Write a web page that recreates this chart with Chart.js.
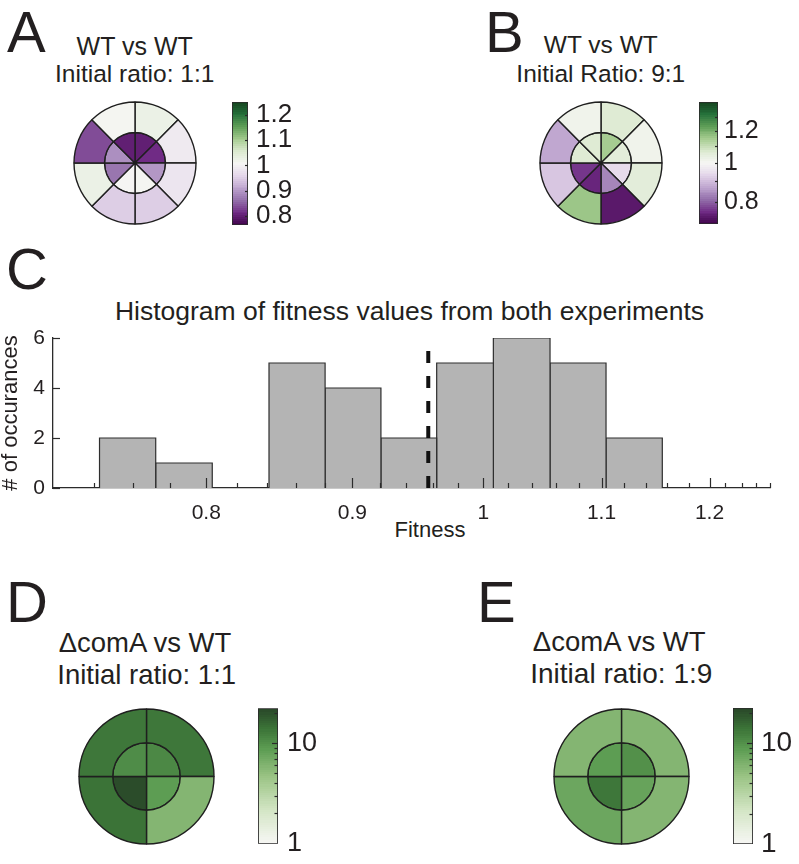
<!DOCTYPE html>
<html>
<head>
<meta charset="utf-8">
<script src="https://cdn.jsdelivr.net/npm/chart.js@4.4.0/dist/chart.umd.min.js"></script>
<style>
  body { margin: 0; background: #fff; }
  #fig { position: relative; width: 799px; height: 864px; overflow: hidden;
         font-family: "Liberation Sans", Arial, sans-serif; color: #231f20; }
  #fig canvas { position: absolute; }
  .t { position: absolute; line-height: 1; white-space: nowrap; }
</style>
</head>
<body>
<div id="fig"></div>
<script>
// ---- data ----
// rose sectors go clockwise starting at 12 o'clock
const sectors8 = [1, 1, 1, 1, 1, 1, 1, 1];
const sectors4 = [1, 1, 1, 1];

// A: WT vs WT, 1:1
const wt11Outer = [1.03, 0.99, 0.98, 0.95, 0.95, 1.025, 0.84, 1.01];
const wt11Inner = [0.795, 0.81, 0.90, 1.015, 1.005, 0.87, 0.89, 0.80];
// B: WT vs WT, 9:1
const wt91Outer = [1.058, 1.014, 1.05, 0.734, 1.159, 0.906, 0.875, 1.014];
const wt91Inner = [1.143, 1.05, 0.945, 0.833, 0.75, 0.766, 1.058, 1.065];
// D: comA vs WT, 1:1
const comA11Outer = [13.1, 6.0, 14.0, 13.1];
const comA11Inner = [10.9, 8.8, 20.2, 10.5];
// E: comA vs WT, 1:9
const comA19Outer = [5.8, 6.0, 7.3, 5.8];
const comA19Inner = [10.2, 7.7, 13.1, 8.8];

// colorbar ticks
const cbATicks = [0.8, 0.9, 1, 1.1, 1.2];
const cbALabels = [0.8, 0.9, 1, 1.1, 1.2];
const cbBTicks = [0.8, 0.9, 1, 1.1, 1.2, 1.3];
const cbBLabels = [0.8, 1, 1.2];
const cbGreenTicks = [1, 2, 3, 4, 5, 6, 7, 8, 9, 10, 20];
const cbGreenLabels = [1, 10];

// C: histogram
const binEdges = [0.7341, 0.7681, 0.8039, 0.8415, 0.8804, 0.9209, 0.9632, 1.0082, 1.0553, 1.1040, 1.1552];
const binCounts = [2, 1, 0, 5, 4, 2, 5, 6, 5, 2];
const wtLine = 0.9567;
const xMajorTicks = [0.8, 0.9, 1, 1.1, 1.2];
const xMinorTicks = [0.7307, 0.754, 0.7771, 0.82, 0.84, 0.86, 0.88, 0.92, 0.94, 0.96, 0.98,
                     1.02, 1.04, 1.06, 1.08, 1.12, 1.14, 1.16, 1.18, 1.2151, 1.2317, 1.2459, 1.2594];
const yTicks = [0, 2, 4, 6];

// ---- colormaps (slightly muted, as printed) ----
const prgn = ['#40044b', '#6f2a84', '#9470ab', '#bea5cf', '#e4d6ea', '#f6f6f4',
              '#dbe9cf', '#a3cb8e', '#5f9e57', '#24703a', '#15441f'];
const greens = [[0, '#f7f7f4'], [0.25, '#d3e5c4'], [0.5, '#99c383'], [0.7, '#5c9c52'], [0.85, '#3b7337'], [1, '#284528']];

function hex(h) { return [1, 3, 5].map(i => parseInt(h.substr(i, 2), 16)); }

function cmapColor(stops, t) {
  // 64-step colormap like the original figure
  t = Math.min(Math.max(t, 0), 0.9999);
  t = (Math.floor(t * 64) + 0.5) / 64;
  const s = Array.isArray(stops[0]) ? stops : stops.map((c, i) => [i / (stops.length - 1), c]);
  let k = 0;
  while (k < s.length - 2 && t > s[k + 1][0]) k++;
  const f = (t - s[k][0]) / (s[k + 1][0] - s[k][0]);
  const a = hex(s[k][1]), b = hex(s[k + 1][1]);
  return 'rgb(' + a.map((v, i) => Math.round(v + (b[i] - v) * f)).join(',') + ')';
}

function norm(type, min, max) {
  if (type === 'logarithmic') return v => (Math.log(v) - Math.log(min)) / (Math.log(max) - Math.log(min));
  return v => (v - min) / (max - min);
}

// ---- helpers ----
const fig = document.getElementById('fig');
const ink = '#231f20';
const axisColor = '#2b2b2b';
Chart.defaults.font.family = '"Liberation Sans", Arial, sans-serif';
Chart.defaults.color = ink;

function addText(str, size, x, baseline, centered) {
  const d = document.createElement('div');
  d.className = 't';
  d.textContent = str;
  d.style.fontSize = size + 'px';
  d.style.top = (baseline - 0.8465 * size) + 'px';
  d.style.left = x + 'px';
  if (centered) d.style.transform = 'translateX(-50%)';
  fig.appendChild(d);
}

function makeCanvas(left, top, w, h) {
  const c = document.createElement('canvas');
  c.width = w; c.height = h;
  c.style.left = left + 'px'; c.style.top = top + 'px';
  c.style.width = w + 'px'; c.style.height = h + 'px';
  fig.appendChild(c);
  return c;
}

// inward tick marks, drawn from the scale's own pixel mapping
function tickMarks(axisId, marks) {
  return {
    id: 'tickMarks_' + axisId,
    afterDatasetsDraw(chart) {
      const s = chart.scales[axisId], a = chart.chartArea, c = chart.ctx;
      c.save();
      c.strokeStyle = axisColor;
      c.lineWidth = 1.2;
      marks.forEach(([v, len]) => {
        const p = Math.round(s.getPixelForValue(v)) + 0.5;
        c.beginPath();
        if (s.isHorizontal()) { c.moveTo(p, a.bottom); c.lineTo(p, a.bottom - len); }
        else if (s.position === 'left') { c.moveTo(a.left, p); c.lineTo(a.left + len, p); }
        else { c.moveTo(a.right, p); c.lineTo(a.right - len, p); }
        c.stroke();
      });
      c.restore();
    }
  };
}

function rose(cx, cy, r, weights, outer, inner, colorOf) {
  const size = Math.ceil(r * 2 + 20);
  const cv = makeCanvas(Math.round(cx - size / 2), Math.round(cy - size / 2), size, size);
  new Chart(cv, {
    type: 'doughnut',
    data: {
      datasets: [
        { data: weights, backgroundColor: outer.map(colorOf) },
        { data: weights, backgroundColor: inner.map(colorOf) }
      ]
    },
    options: {
      responsive: false, animation: false, events: [], devicePixelRatio: 1,
      cutout: 0, radius: r,
      borderColor: '#1f1f1f', borderWidth: 1.4,
      plugins: { legend: { display: false }, tooltip: { enabled: false } }
    }
  });
}

function colorbar(barL, barT, barW, barH, type, min, max, stops, ticks, labels, labelSize, pad, marks) {
  const padL = 10, padV = 25, axisW = 62;
  const cv = makeCanvas(barL - padL, barT - padV, padL + barW + axisW, barH + 2 * padV);
  new Chart(cv, {
    type: 'bar',
    data: {
      labels: [''],
      datasets: [{
        data: [[min, max]],
        backgroundColor: ctx => {
          const area = ctx.chart.chartArea;
          if (!area) return '#fff';
          const g = ctx.chart.ctx.createLinearGradient(0, area.bottom, 0, area.top);
          for (let i = 0; i < 64; i++) {
            const col = cmapColor(stops, (i + 0.5) / 64);
            g.addColorStop(i / 64, col);
            g.addColorStop((i + 1) / 64, col);
          }
          return g;
        },
        borderColor: axisColor, borderWidth: 1.2, borderSkipped: false,
        barPercentage: 1, categoryPercentage: 1
      }]
    },
    options: {
      responsive: false, animation: false, events: [], devicePixelRatio: 1,
      layout: { padding: { left: padL, top: padV, bottom: padV, right: 0 } },
      plugins: { legend: { display: false }, tooltip: { enabled: false } },
      scales: {
        x: { display: false },
        y: {
          type: type, position: 'right', min: min, max: max, beginAtZero: false,
          afterBuildTicks: s => { s.ticks = ticks.map(v => ({ value: v })); },
          afterFit: s => { s.width = axisW; },
          grid: { display: false, drawTicks: false },
          border: { display: false },
          ticks: {
            autoSkip: false, padding: pad, font: { size: labelSize },
            callback: v => labels.includes(v) ? String(v) : ''
          }
        }
      }
    },
    plugins: [tickMarks('y', marks)]
  });
}

// ---- panel letters and titles ----
addText('A', 58, 7, 51.7);
addText('B', 58, 485, 51.7);
addText('C', 58, 6, 289);
addText('D', 58, 6, 621.7);
addText('E', 58, 477, 621.7);

addText('WT vs WT', 25, 134.7, 55, true);
addText('Initial ratio: 1:1', 24.5, 134.7, 82.7, true);
addText('WT vs WT', 24.5, 600.8, 53.5, true);
addText('Initial Ratio: 9:1', 24.5, 600.8, 82.7, true);
addText('Histogram of fitness values from both experiments', 26.5, 409.5, 320, true);
addText('Fitness', 22, 430, 537.5, true);
addText('\u0394comA vs WT', 27.5, 145, 652.7, true);
addText('Initial ratio: 1:1', 27.5, 146.7, 684, true);
addText('\u0394comA vs WT', 27.5, 619.2, 651.7, true);
addText('Initial ratio: 1:9', 28, 621.3, 684, true);

// ---- A ----
const tA = norm('linear', 0.764, 1.251);
rose(135, 163, 61, sectors8, wt11Outer, wt11Inner, v => cmapColor(prgn, tA(v)));
colorbar(232, 102, 16, 123, 'linear', 0.764, 1.251, prgn, cbATicks, cbALabels, 26, 8,
  cbATicks.map(v => [v, 3]));

// ---- B ----
const tB = norm('logarithmic', 0.704, 1.42);
rose(601, 163, 61, sectors8, wt91Outer, wt91Inner, v => cmapColor(prgn, tB(v)));
colorbar(699, 102, 19, 122, 'logarithmic', 0.704, 1.42, prgn, cbBTicks, cbBLabels, 25, 6,
  cbBTicks.map(v => [v, 3]));

// ---- D / E ----
const tG = norm('logarithmic', 1, 22.2);
const greenMarks = cbGreenTicks.filter(v => v > 1).map(v => [v, v === 10 ? 6 : 3.5]);
rose(146, 776, 67.5, sectors4, comA11Outer, comA11Inner, v => cmapColor(greens, tG(v)));
colorbar(258, 708, 20, 136, 'logarithmic', 1, 22.2, greens, cbGreenTicks, cbGreenLabels, 27, 9, greenMarks);
rose(621, 776, 67.5, sectors4, comA19Outer, comA19Inner, v => cmapColor(greens, tG(v)));
colorbar(733, 708, 20, 136, 'logarithmic', 1, 22.2, greens, cbGreenTicks, cbGreenLabels, 28, 8, greenMarks);

// ---- C: histogram ----
const histSets = binCounts.map((n, i) => ({
  data: [{ x: binEdges[i], y: 0 }, { x: binEdges[i], y: n }, { x: binEdges[i + 1], y: n }, { x: binEdges[i + 1], y: 0 }],
  fill: 'origin', backgroundColor: '#b4b4b4', borderColor: '#2e2e2e', borderWidth: 1.2,
  pointRadius: 0, tension: 0
}));
const dashSet = {
  data: [{ x: wtLine, y: 0 }, { x: wtLine, y: 6 }],
  borderColor: '#111', borderWidth: 4, borderDash: [12, 13], borderCapStyle: 'butt',
  pointRadius: 0, fill: false
};

const histCanvas = makeCanvas(0, 300, 799, 250);
new Chart(histCanvas, {
  type: 'line',
  data: { datasets: [dashSet].concat(histSets) },
  options: {
    responsive: false, animation: false, events: [], devicePixelRatio: 1,
    layout: { padding: { left: 0, right: 29, top: 38, bottom: 0 } },
    plugins: { legend: { display: false }, tooltip: { enabled: false } },
    scales: {
      x: {
        type: 'logarithmic', min: 0.7071, max: 1.2599,
        afterBuildTicks: s => {
          s.ticks = xMinorTicks.concat(xMajorTicks).sort((a, b) => a - b).map(v => ({ value: v }));
        },
        afterFit: s => { s.height = 62; },
        grid: { display: false, drawTicks: false },
        border: { display: true, color: axisColor, width: 1.3 },
        ticks: {
          autoSkip: false, maxRotation: 0, padding: 13, font: { size: 21 },
          callback: v => xMajorTicks.includes(v) ? String(v) : ''
        }
      },
      y: {
        min: 0, max: 6,
        afterBuildTicks: s => { s.ticks = yTicks.map(v => ({ value: v })); },
        afterFit: s => { s.width = 53; },
        grid: { display: false, drawTicks: false },
        border: { display: true, color: axisColor, width: 1.3 },
        ticks: { padding: 8, font: { size: 21 } },
        title: { display: true, text: '# of occurances', font: { size: 22, lineHeight: 1 }, padding: { top: 0, bottom: 0 } }
      }
    }
  },
  plugins: [
    tickMarks('x', xMajorTicks.map(v => [v, 10]).concat(xMinorTicks.map(v => [v, 5]))),
    tickMarks('y', yTicks.map(v => [v, 7]))
  ]
});
</script>
</body>
</html>
